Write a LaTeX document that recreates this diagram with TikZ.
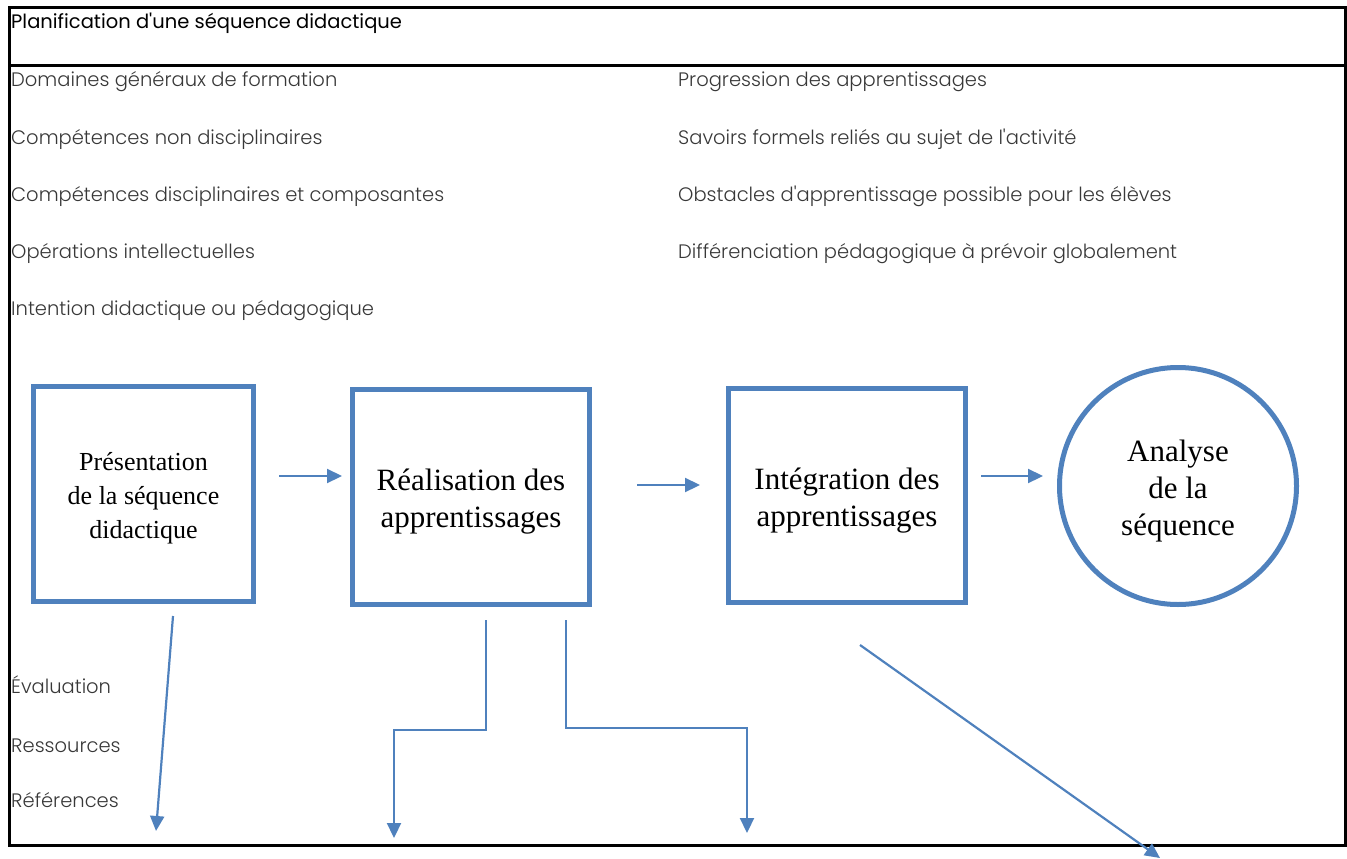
\documentclass[tikz,border=0pt]{standalone}
\usepackage{fontspec}
\setmainfont{Liberation Serif}
\newfontfamily\plan{Poppins}
\newfontfamily\planlight{Poppins Light}
\usepackage{tikz}
\usetikzlibrary{positioning,arrows.meta}
\definecolor{bleu}{HTML}{4F81BD}

\begin{document}
\begin{tikzpicture}[x=1pt, y=-1pt]
    \tikzset{%
      item/.style={anchor=base west, inner sep=0pt, text=black!78, font=\planlight\fontsize{19.5}{23}\selectfont},
      etape/.style={draw=bleu, line width=5pt, align=center, text height=67pt, font=\fontsize{31}{37}\selectfont},
      fleche/.style={draw=bleu, line width=2.2pt, -{Triangle[length=15pt,width=14pt]}}
      }
     \useasboundingbox (0,0) rectangle (1347,859);
     \draw [line width=3pt] (9.5,7.5) rectangle (1345.5,845.5);
     \draw [line width=3pt] (9.5,66) -- (1345.5,66);

     \node [item, text=black, font=\plan\fontsize{19.5}{23}\selectfont] (Titre) at (11,29) {Planification d'une séquence didactique};

     \node [item] (Domaines) at (11,87) {Domaines généraux de formation};
     \node [item] (CompNon) at (11,144) {Compétences non disciplinaires};
     \node [item] (CompDisc) at (11,201) {Compétences disciplinaires et composantes};
     \node [item] (Operations) at (11,258) {Opérations intellectuelles};
     \node [item] (Intention) at (11,315) {Intention didactique ou pédagogique};

     \node [item] (Progression) at (678,87) {Progression des apprentissages};
     \node [item] (Savoirs) at (678,144) {Savoirs formels reliés au sujet de l'activité};
     \node [item] (Obstacles) at (678,201) {Obstacles d'apprentissage possible pour les élèves};
     \node [item] (Diff) at (678,258) {Différenciation pédagogique à prévoir globalement};

     \node [item] (Eval) at (11,693) {Évaluation};
     \node [item] (Ress) at (11,752) {Ressources};
     \node [item] (Ref) at (11,807) {Références};

     \node [etape, minimum width=220, minimum height=215, text height=95.5pt, font=\fontsize{26}{34}\selectfont] (Pres) at (143.5,494) {Présentation\\de la séquence\\didactique};
     \node [etape, minimum width=237, minimum height=215] (Real) at (471,497) {Réalisation des\\apprentissages};
     \node [etape, minimum width=237, minimum height=214, text height=69pt] (Integ) at (847,495.5) {Intégration des\\apprentissages};
     \node [etape, circle, minimum size=237, text height=105pt] (Analyse) at (1178,486) {Analyse\\de la\\séquence};

     \draw [fleche, shorten <=23pt, shorten >=8pt] ([yshift=18pt]Pres.east) -- ([yshift=21pt]Real.west);
     \draw [fleche, shorten <=45pt, shorten >=26pt] ([yshift=12pt]Real.east) -- ([yshift=10.5pt]Integ.west);
     \draw [fleche, shorten <=13pt, shorten >=14pt] ([yshift=19.5pt]Integ.east) -- ([yshift=10pt]Analyse.west);

     \coordinate (PresBas) at (156,831);
     \coordinate (RealBasG) at (394,838);
     \coordinate (RealBasD) at (747,833);
     \coordinate (IntegBas) at (1160,858);

     \draw [fleche] ([xshift=29.5pt, yshift=-12pt]Pres.south) -- (PresBas);
     \draw [fleche] ([xshift=15pt, yshift=-13pt]Real.south) -- ++(0,110) -| (RealBasG);
     \draw [fleche] ([xshift=95pt, yshift=-13pt]Real.south) -- ++(0,108) -| (RealBasD);
     \draw [fleche] ([xshift=13pt, yshift=-40pt]Integ.south) -- (IntegBas);

  \end{tikzpicture}
\end{document}
